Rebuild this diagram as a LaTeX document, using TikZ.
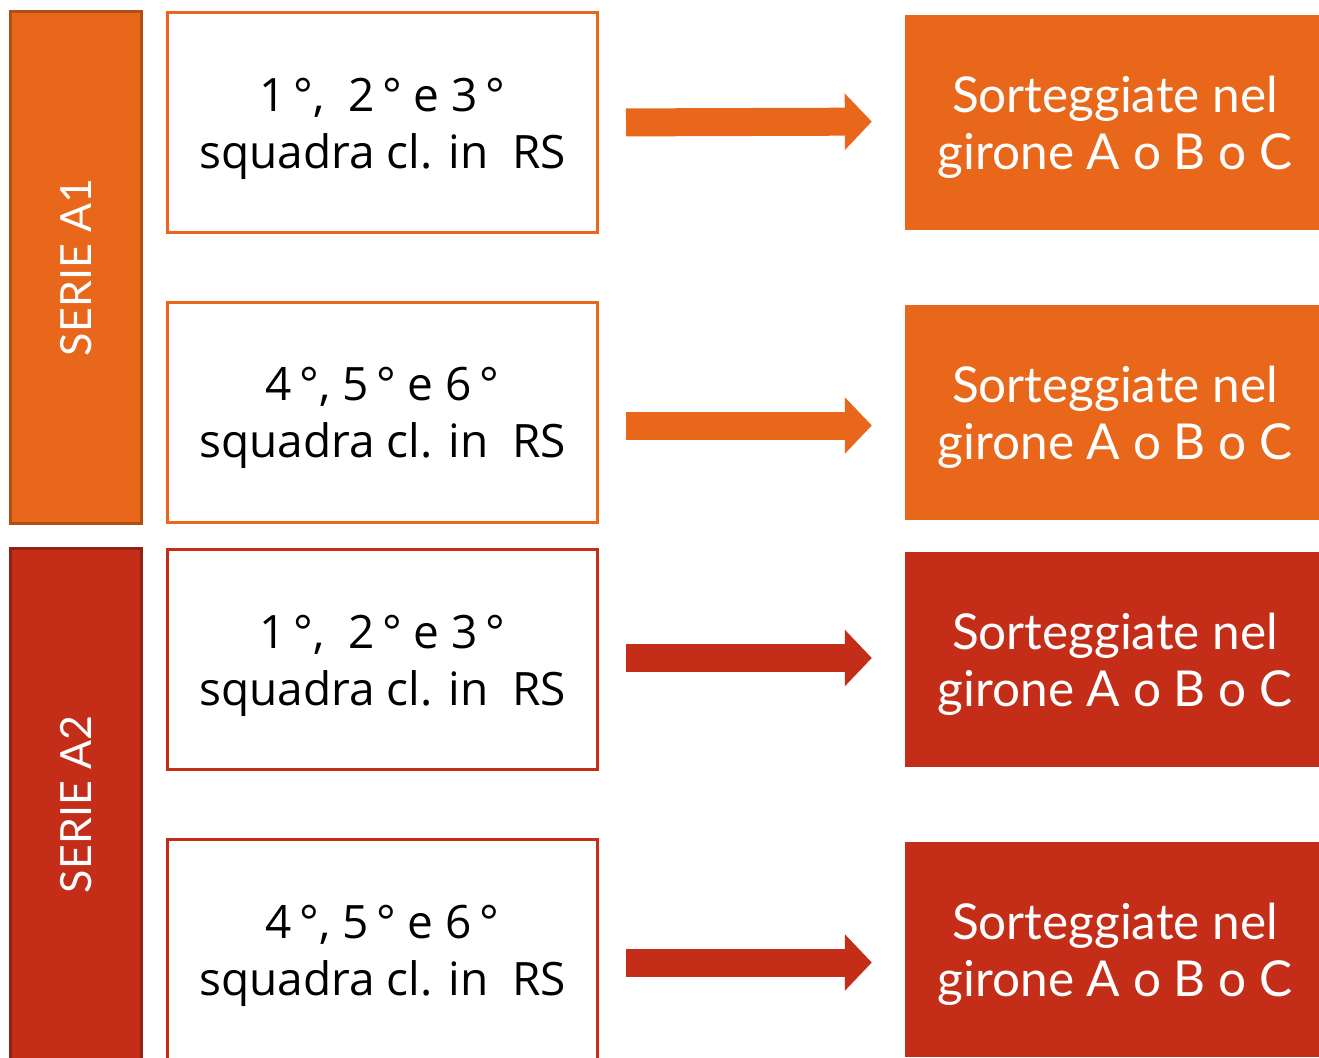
\documentclass[tikz,border=0pt]{standalone}
\usepackage{fontspec}
\setmainfont{Open Sans}
\newfontfamily\sortfont{Lato}
\usetikzlibrary{arrows.meta,positioning}
\definecolor{arancio}{HTML}{E8671A}
\definecolor{arancioscuro}{HTML}{B04E14}
\definecolor{rosso}{HTML}{C42E19}
\definecolor{rossoscuro}{HTML}{912314}
\newcommand*{\squadre}[1]{\rule{0pt}{46pt}#1\\squadra cl. in\ \ RS}
\newcommand*{\sorteggio}{\rule{0pt}{47pt}Sorteggiate nel\\girone A o B o C}

\begin{document}
\begin{tikzpicture}[x=1pt, y=-1pt, node distance=732.5pt]
    \tikzstyle{every node}=[inner sep=0pt, align=center]
    \tikzstyle{serie}=[rotate=90, minimum width=512pt, minimum height=131pt, line width=3pt, text=white, font=\sortfont\fontsize{43}{50}\selectfont]
    \tikzstyle{posto}=[draw, fill=white, line width=3pt, minimum width=430pt, minimum height=220pt, font=\fontsize{46}{57}\selectfont]
    \tikzstyle{girone}=[minimum width=420pt, minimum height=215pt, text=white, font=\sortfont\fontsize{49.5}{57}\selectfont]
    \tikzstyle{freccia}=[line width=28pt, shorten <=27pt, shorten >=33pt, -{Triangle[length=27pt, width=55pt]}]
    \useasboundingbox (0,0) rectangle (1319,1057);
    % serie
    \node[serie, fill=arancio, draw=arancioscuro] (sA1) at (76,267.5)   {SERIE A1};
    \node[serie, fill=rosso, draw=rossoscuro]     (sA2) at (76,804.5)   {SERIE A2};
    % posizioni in classifica
    \node[posto, draw=arancio] (l1) at (382.5,122.5) {\squadre{1\,°,\ \ 2\,°\ e 3\,°}};
    \node[posto, draw=arancio] (l2) at (382.5,412)   {\squadre{4\,°, 5\,°\ e 6\,°}};
    \node[posto, draw=rosso]   (l3) at (382.5,659.5) {\squadre{1\,°,\ \ 2\,°\ e 3\,°}};
    \node[posto, draw=rosso]   (l4) at (382.5,949.5) {\squadre{4\,°, 5\,°\ e 6\,°}};
    % gironi
    \node[girone, fill=arancio] (r1) [right of=l1] {\sorteggio};
    \node[girone, fill=arancio] (r2) [right of=l2] {\sorteggio};
    \node[girone, fill=rosso]   (r3) [right of=l3] {\sorteggio};
    \node[girone, fill=rosso]   (r4) [right of=l4] {\sorteggio};
    \path
(l1.east)                 edge[freccia, arancio] ([yshift=1pt]r1.west)
([yshift=-13.5pt]l2.east) edge[freccia, arancio] ([yshift=-13.5pt]r2.west)
([yshift=1.5pt]l3.east)   edge[freccia, rosso]   ([yshift=1.5pt]r3.west)
([yshift=-13pt]l4.east)   edge[freccia, rosso]   ([yshift=-13pt]r4.west);
\end{tikzpicture}
\end{document}
